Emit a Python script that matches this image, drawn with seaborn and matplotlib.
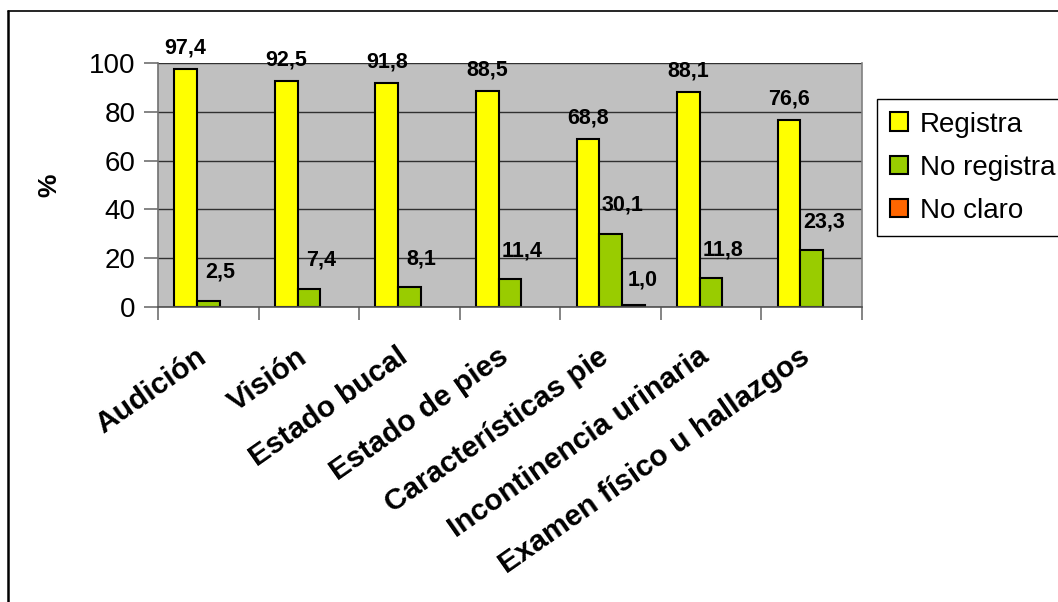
import matplotlib
matplotlib.use("Agg")
import matplotlib.pyplot as plt
from matplotlib.lines import Line2D
from matplotlib.ticker import FixedLocator
from matplotlib.transforms import ScaledTranslation
import seaborn as sns
import pandas as pd
import numpy as np

categories = ["Audición", "Visión", "Estado bucal", "Estado de pies",
              "Características pie", "Incontinencia urinaria", "Examen físico u hallazgos"]
registra = [97.4, 92.5, 91.8, 88.5, 68.8, 88.1, 76.6]
no_registra = [2.5, 7.4, 8.1, 11.4, 30.1, 11.8, 23.3]
no_claro = [None, None, None, None, 1.0, None, None]
series_names = ["Registra", "No registra", "No claro"]
colors = ["#FFFF00", "#99CC00", "#FF6600"]
yticks = [0, 20, 40, 60, 80, 100]

rows = []
for s_name, vals in zip(series_names, [registra, no_registra, no_claro]):
    for c, v in zip(categories, vals):
        if v is not None:
            rows.append({"cat": c, "serie": s_name, "val": v})
df = pd.DataFrame(rows)

sns.set_style("white")
plt.rcParams["font.family"] = ["Liberation Sans", "DejaVu Sans"]
plt.rcParams["text.color"] = "black"
plt.rcParams["axes.labelcolor"] = "black"
plt.rcParams["xtick.color"] = "black"
plt.rcParams["ytick.color"] = "black"

W, H = 1058, 602
fig = plt.figure(figsize=(W / 100, H / 100), dpi=100)
ax = fig.add_axes([158 / W, 1 - 307 / H, (862 - 158) / W, (307 - 63) / H])
ax.set_facecolor("#C0C0C0")

sns.barplot(data=df, x="cat", y="val", hue="serie", order=categories,
            hue_order=series_names, palette=colors, width=0.675,
            edgecolor="black", linewidth=1.5, saturation=1, ax=ax, legend=True)

ax.set_xlim(-0.5, len(categories) - 0.5)
ax.set_ylim(0, 100)
ax.set_yticks(yticks)
ax.yaxis.grid(True, color="#303030", linewidth=1)
ax.xaxis.grid(False)
ax.set_axisbelow(True)

ax.spines["top"].set_visible(False)
ax.spines["right"].set_color("#808080")
ax.spines["right"].set_linewidth(1.2)
ax.spines["left"].set_color("#707070")
ax.spines["bottom"].set_color("#505050")
ax.spines["left"].set_linewidth(1.2)
ax.spines["bottom"].set_linewidth(1.2)

ax.tick_params(axis="y", direction="out", length=10, width=1.2, color="#707070",
               labelsize=20, pad=6, left=True, labelcolor="black")
ax.set_yticklabels([str(t) for t in yticks])
ax.set_xticks(range(len(categories)))
ax.set_xticklabels(categories, rotation=35, ha="right", rotation_mode="anchor",
                   fontweight="bold", fontsize=21.5, color="black")
ax.tick_params(axis="x", which="major", length=0, pad=24)
shift = ScaledTranslation(-13 / 100, -2 / 100, fig.dpi_scale_trans)
for lbl in ax.get_xticklabels():
    lbl.set_transform(lbl.get_transform() + shift)
ax.xaxis.set_minor_locator(FixedLocator(np.arange(-0.5, len(categories), 1.0)))
ax.tick_params(axis="x", which="minor", direction="out", length=9, width=1.2,
               color="#707070", bottom=True)

ax.set_xlabel("")
ax.set_ylabel("%", fontsize=19, fontweight="bold", labelpad=20, color="black")

# data labels
offsets = [(0, 11), (12, 18), (9, 14)]
for cont, (dx, dy) in zip(ax.containers, offsets):
    for bar in cont:
        h = bar.get_height()
        if h is None or np.isnan(h):
            continue
        xc = bar.get_x() + bar.get_width() / 2
        ax.annotate(f"{h:.1f}".replace(".", ","), (xc, h),
                    xytext=(dx, dy), textcoords="offset pixels",
                    ha="center", va="bottom", fontsize=15.5, fontweight="bold",
                    color="black", annotation_clip=False)

# legend
handles, labels = ax.get_legend_handles_labels()
ax.legend_.remove()
leg = fig.legend(handles, labels, loc="upper left",
                 bbox_to_anchor=(877 / W, 1 - 99 / H), bbox_transform=fig.transFigure,
                 fontsize=20, frameon=True, fancybox=False, edgecolor="black",
                 framealpha=1, borderaxespad=0, borderpad=0.45, labelspacing=0.62,
                 handlelength=0.65, handleheight=0.65, handletextpad=0.45)
leg.get_frame().set_linewidth(1.0)
for t in leg.get_texts():
    t.set_color("black")

# outer chart border
fig.add_artist(Line2D([8 / W, 8 / W], [0, 1 - 11 / H], transform=fig.transFigure,
                      color="black", linewidth=1.8))
fig.add_artist(Line2D([8 / W, 1.0], [1 - 11 / H, 1 - 11 / H], transform=fig.transFigure,
                      color="black", linewidth=1.2))

fig.savefig("out.png", dpi=100)
